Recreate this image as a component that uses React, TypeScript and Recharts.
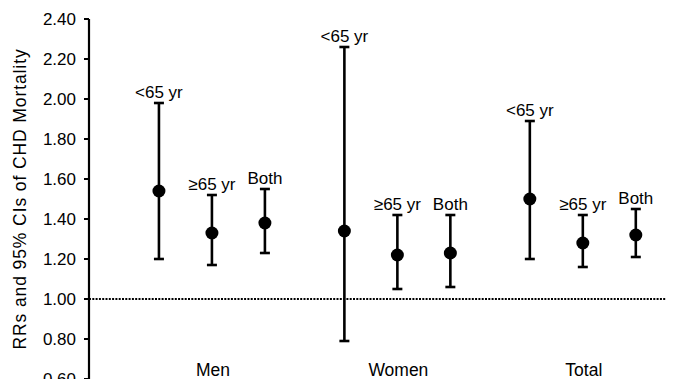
import React from 'react';
import {
  ComposedChart,
  Scatter,
  XAxis,
  YAxis,
  ErrorBar,
  ReferenceLine,
  Label,
} from 'recharts';

const groups = ['Men', 'Women', 'Total'];
const subgroups = ['<65 yr', '≥65 yr', 'Both'];
// order: Men(<65, ≥65, Both), Women(...), Total(...)
const rrValues = [1.54, 1.33, 1.38, 1.34, 1.22, 1.23, 1.5, 1.28, 1.32];
const ciLow = [1.2, 1.17, 1.23, 0.79, 1.05, 1.06, 1.2, 1.16, 1.21];
const ciHigh = [1.98, 1.52, 1.55, 2.26, 1.42, 1.42, 1.89, 1.42, 1.45];
const yTicks = [0.6, 0.8, 1.0, 1.2, 1.4, 1.6, 1.8, 2.0, 2.2, 2.4];

const FONT = '"Liberation Sans", Arial, Helvetica, sans-serif';
const GROUP_STEP = 3.5;

const points = rrValues.map((v, i) => {
  const g = Math.floor(i / 3);
  const s = i % 3;
  return {
    x: g * GROUP_STEP + s + 1,
    y: v,
    err: [v - ciLow[i], ciHigh[i] - v],
    high: ciHigh[i],
    label: subgroups[s],
  };
});

const labelPoints = points.map((p) => ({ x: p.x, y: p.high, label: p.label }));

const groupTicks = groups.map((_, g) => g * GROUP_STEP + 2);

const GroupTick = (props: any) => {
  const { x, y, payload } = props;
  const idx = groupTicks.indexOf(payload.value);
  return (
    <text x={x + 1} y={y - 3} textAnchor="middle" fontSize={17.5} fontFamily={FONT} fill="#000">
      {groups[idx]}
    </text>
  );
};

const YLabel = (props: any) => {
  const vb = props.viewBox || { y: 19, height: 360 };
  const cy = vb.y + vb.height / 2;
  const cx = 20;
  return (
    <text
      x={cx}
      y={cy}
      transform={`rotate(-90, ${cx}, ${cy})`}
      textAnchor="middle"
      dominantBaseline="central"
      fontSize={17.5}
      letterSpacing={0.9}
      fontFamily={FONT}
      fill="#000"
    >
      RRs and 95% CIs of CHD Mortality
    </text>
  );
};

const Dot = (p: any) => <circle cx={p.cx} cy={p.cy} r={6.5} fill="#000" />;

const TopLabel = (p: any) => (
  <text x={p.cx} y={p.cy - 5} textAnchor="middle" fontSize={17} fontFamily={FONT} fill="#000">
    {p.payload.label}
  </text>
);

export default function App() {
  return (
    <div style={{ position: 'absolute', left: 0, top: 0, width: 673, height: 379, overflow: 'hidden', background: '#fff' }}>
      <ComposedChart
        width={673}
        height={400}
        margin={{ top: 19, right: 7, left: 0, bottom: 0 }}
        style={{ fontFamily: FONT }}
      >
        <XAxis
          type="number"
          dataKey="x"
          domain={[-0.32, 10.57]}
          ticks={groupTicks}
          axisLine={false}
          tickLine={false}
          tickSize={0}
          tickMargin={0}
          height={21}
          tick={<GroupTick />}
          allowDataOverflow
        />
        <YAxis
          type="number"
          dataKey="y"
          domain={[0.6, 2.4]}
          ticks={yTicks}
          width={89}
          tickFormatter={(v: number) => v.toFixed(2)}
          axisLine={{ stroke: '#000', strokeWidth: 2.2 }}
          tickLine={{ stroke: '#000', strokeWidth: 2 }}
          tickSize={5}
          tickMargin={8}
          tick={{ fill: '#000', fontSize: 17, fontFamily: FONT }}
          allowDataOverflow
          interval={0}
        >
          <Label content={<YLabel />} />
        </YAxis>
        <ReferenceLine y={1} stroke="#000" strokeWidth={2} strokeDasharray="2 1.3" />
        <Scatter data={points} dataKey="y" shape={<Dot />} isAnimationActive={false}>
          <ErrorBar dataKey="err" direction="y" width={5} strokeWidth={2.6} stroke="#000" />
        </Scatter>
        <Scatter data={labelPoints} dataKey="y" shape={<TopLabel />} isAnimationActive={false} />
      </ComposedChart>
    </div>
  );
}
